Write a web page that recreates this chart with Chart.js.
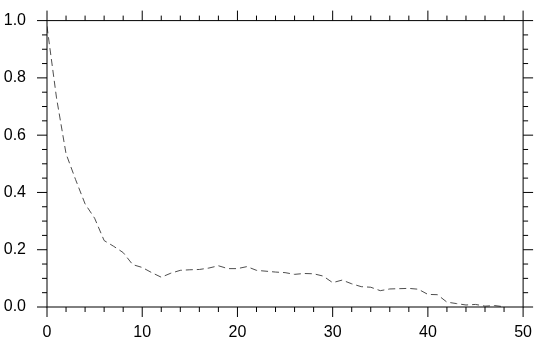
<!DOCTYPE html>
<html>
<head>
<meta charset="utf-8">
<script src="https://cdn.jsdelivr.net/npm/chart.js@4/dist/chart.umd.min.js"></script>
<style>
html,body{margin:0;padding:0;background:#fff;}
canvas{display:block;}
</style>
</head>
<body>
<canvas id="c" width="538" height="344"></canvas>
<script>
const lags = [0,1,2,3,4,5,6,7,8,9,10,11,12,13,14,15,16,17,18,19,20,21,22,23,24,25,26,27,28,29,30,31,32,33,34,35,36,37,38,39,40,41,42,43,44,45,46,47,48];
const values = [0.98,0.73,0.535,0.445,0.36,0.31,0.232,0.212,0.19,0.148,0.138,0.12,0.104,0.118,0.128,0.13,0.131,0.136,0.144,0.134,0.134,0.141,0.128,0.125,0.122,0.12,0.114,0.117,0.116,0.108,0.085,0.094,0.081,0.071,0.069,0.057,0.063,0.064,0.065,0.062,0.044,0.043,0.017,0.012,0.007,0.009,0.003,0.005,0.001];
const xTicks = [0,10,20,30,40,50];
const yTicks = [0.0,0.2,0.4,0.6,0.8,1.0];
const xMinorStep = 2;
const yMinorStep = 0.05;

const points = lags.map((x,i)=>({x:x,y:values[i]}));

const tickPlugin = {
  id:'ticksFrame',
  afterDraw(chart){
    const ctx = chart.ctx;
    const a = chart.chartArea;
    const xs = chart.scales.x, ys = chart.scales.y;
    ctx.save();
    ctx.strokeStyle = '#000';
    ctx.lineWidth = 1;
    for (let k = 0; k <= 25; k++) {
      const v = k * xMinorStep;
      const px = xs.getPixelForValue(v);
      const major = k % 5 === 0;
      const len = major ? 10 : 5;
      ctx.beginPath();
      ctx.moveTo(px, a.bottom); ctx.lineTo(px, a.bottom + len);
      ctx.moveTo(px, a.top); ctx.lineTo(px, a.top - len);
      ctx.stroke();
    }
    for (let k = 0; k <= 20; k++) {
      const v = k * yMinorStep;
      const py = ys.getPixelForValue(v);
      const major = k % 4 === 0;
      const len = major ? 10 : 5;
      ctx.beginPath();
      ctx.moveTo(a.left, py); ctx.lineTo(a.left - len, py);
      ctx.moveTo(a.right, py); ctx.lineTo(a.right + len, py);
      ctx.stroke();
    }
    ctx.strokeRect(a.left, a.top, a.right - a.left, a.bottom - a.top);
    ctx.restore();
  }
};

new Chart(document.getElementById('c'), {
  type:'line',
  data:{
    datasets:[{
      data: points,
      borderColor:'#3a3a3a',
      borderWidth:0.9,
      borderDash:[7,4],
      pointRadius:0,
      fill:false,
      tension:0
    }]
  },
  options:{
    responsive:false,
    animation:false,
    devicePixelRatio:1,
    layout:{padding:{top:10,right:11,left:0,bottom:0}},
    plugins:{legend:{display:false},tooltip:{enabled:false}},
    scales:{
      x:{
        type:'linear', min:0, max:50,
        afterFit(s){ s.height = 37; },
        afterBuildTicks(s){ s.ticks = xTicks.map(v=>({value:v})); },
        grid:{display:true, drawOnChartArea:false, drawTicks:true, tickLength:10, tickColor:'rgba(0,0,0,0)', color:'rgba(0,0,0,0)'},
        border:{display:false},
        ticks:{padding:6, color:'#000', font:{family:'Liberation Sans, Arial, sans-serif', size:16}, maxRotation:0, autoSkip:false, callback:(v)=>String(v)}
      },
      y:{
        type:'linear', min:0, max:1,
        afterFit(s){ s.width = 47; },
        afterBuildTicks(s){ s.ticks = yTicks.map(v=>({value:v})); },
        grid:{display:true, drawOnChartArea:false, drawTicks:true, tickLength:10, tickColor:'rgba(0,0,0,0)', color:'rgba(0,0,0,0)'},
        border:{display:false},
        ticks:{padding:11, color:'#000', font:{family:'Liberation Sans, Arial, sans-serif', size:16}, autoSkip:false, callback:(v)=>Number(v).toFixed(1)}
      }
    }
  },
  plugins:[tickPlugin]
});
</script>
</body>
</html>
